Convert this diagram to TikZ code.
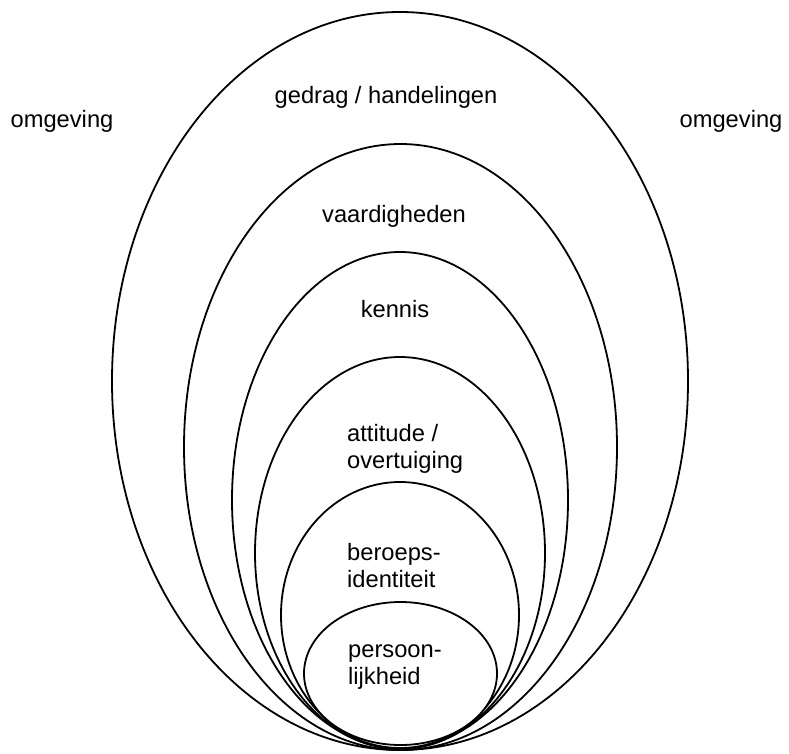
\documentclass[tikz,border=0pt]{standalone}
\usepackage{fontspec}
\setmainfont{Liberation Sans}
\begin{document}
\begin{tikzpicture}[x=1pt,y=-1pt,
  ring/.style={draw=black,line width=1.8pt,fill=white},
  lbl/.style={inner sep=0pt,font=\fontsize{23.7}{27}\selectfont},
  lblml/.style={lbl,align=left,anchor=base west}]
\useasboundingbox (0,0) rectangle (789,753);
\path[ring] (400,381) ellipse [x radius=288, y radius=369];
\path[ring] (400.5,447) ellipse [x radius=216.5, y radius=303];
\path[ring] (400,500) ellipse [x radius=168, y radius=248];
\path[ring] (400,553) ellipse [x radius=145, y radius=196];
\path[ring] (400,615) ellipse [x radius=119, y radius=133];
\path[ring] (400.5,673.5) ellipse [x radius=96.5, y radius=71.5];
\node[lbl,anchor=base] (envl) at (62,127) {omgeving};
\node[lbl,anchor=base] (envr) at (731,127) {omgeving};
\node[lbl,anchor=base] (beh) at (386,103) {gedrag / handelingen};
\node[lbl,anchor=base] (skill) at (394,222) {vaardigheden};
\node[lbl,anchor=base] (know) at (395,317) {kennis};
\node[lblml] (att) at (347,468) {attitude /\\overtuiging};
\node[lblml] (prof) at (347,587) {beroeps-\\identiteit};
\node[lblml] (pers) at (348,684) {persoon-\\lijkheid};
\end{tikzpicture}
\end{document}
